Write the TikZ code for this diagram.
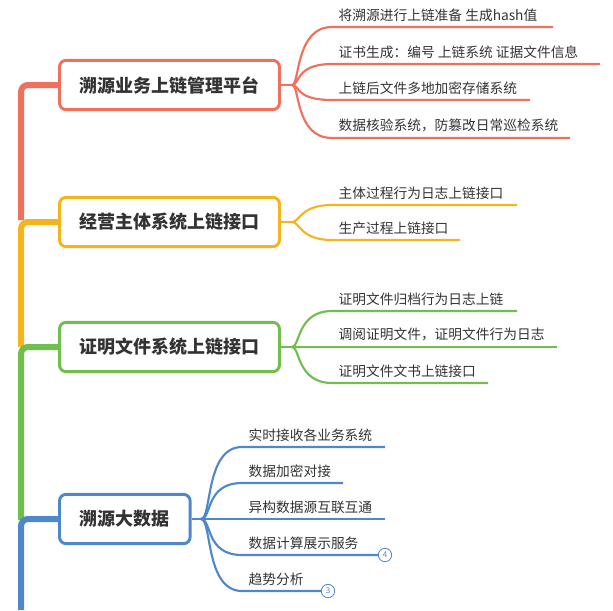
\documentclass[tikz,border=0pt]{standalone}
\usepackage{fontspec}
\setmainfont{Noto Sans CJK SC}
\definecolor{cR}{HTML}{F0705E}
\definecolor{cO}{HTML}{F6B41C}
\definecolor{cG}{HTML}{6FBF4C}
\definecolor{cB}{HTML}{4F87CD}
\definecolor{tx}{HTML}{333333}
\begin{document}
\begin{tikzpicture}[x=0.75pt,y=-0.75pt,
 box/.style={draw=#1,line width=2.2pt,rounded corners=5pt,fill=white,text=tx,font=\fontsize{13.5}{15}\selectfont\bfseries,anchor=west,minimum height=37pt,inner sep=0pt},
 leaf/.style={text=tx,font=\fontsize{10.3}{12}\selectfont,anchor=south west,inner sep=1pt},
 br/.style={draw=#1,line width=1.6pt},
 num/.style={draw=cB,fill=white,circle,line width=0.6pt,inner sep=0pt,minimum size=10pt,text=cB,font=\fontsize{6}{7}\selectfont}]
\useasboundingbox (0,0) rectangle (613,610);
% trunk
\draw[cR,line width=4.5pt] (21,220) -- (21,92) to[out=90,in=180] (28,85) -- (58,85);
\draw[cO,line width=4.5pt] (21,347) -- (21,229) to[out=90,in=180] (28,222) -- (58,222);
\draw[cG,line width=4.5pt] (21,520) -- (21,354) to[out=90,in=180] (28,347) -- (58,347);
\draw[cB,line width=4.5pt] (21,610) -- (21,526) to[out=90,in=180] (28,519) -- (58,519);
% boxes
\node[box=cR,minimum width=165pt] (b1) at (58,85) {溯源业务上链管理平台};
\node[box=cO,minimum width=165pt] (b2) at (58,222) {经营主体系统上链接口};
\node[box=cG,minimum width=165pt] (b3) at (58,347) {证明文件系统上链接口};
\node[box=cB,minimum width=98pt] (b4) at (58,519) {溯源大数据};
% box1 leaves
\coordinate (f1) at (292,85);
\draw[br=cR] (b1.east) -- (f1);
\foreach \y/\e/\t in {27/553/将溯源进行上链准备 生成hash值,64/600/证书生成：编号 上链系统 证据文件信息,100/530/上链后文件多地加密存储系统,138/570/数据核验系统，防篡改日常巡检系统}{
 \draw[br=cR] (f1) .. controls (300,85) and (295,\y) .. (332,\y) -- (\e,\y);
 \node[leaf] at (337,\y-4) {\t};}
% box2
\coordinate (f2) at (292,222);
\draw[br=cO] (b2.east) -- (f2);
\foreach \y/\e/\t in {205/517/主体过程行为日志上链接口,240/460/生产过程上链接口}{
 \draw[br=cO] (f2) .. controls (300,222) and (300,\y) .. (332,\y) -- (\e,\y);
 \node[leaf] at (337,\y-4) {\t};}
% box3
\coordinate (f3) at (292,347);
\draw[br=cG] (b3.east) -- (f3);
\foreach \y/\e/\t in {311/517/证明文件归档行为日志上链,347/557/调阅证明文件，证明文件行为日志,383/488/证明文件文书上链接口}{
 \draw[br=cG] (f3) .. controls (300,347) and (297,\y) .. (332,\y) -- (\e,\y);
 \node[leaf] at (337,\y-4) {\t};}
% box4
\coordinate (f4) at (201,519);
\draw[br=cB] (b4.east) -- (f4);
\foreach \y/\e/\t in {447/385/实时接收各业务系统,483/343/数据加密对接,519/385/异构数据源互联互通,555/378/数据计算展示服务,591/321/趋势分析}{
 \draw[br=cB] (f4) .. controls (212,519) and (205,\y) .. (242,\y) -- (\e,\y);
 \node[leaf] at (247,\y-4) {\t};}
\node[num] (n4) at (385,555) {4};
\node[num] (n3) at (328,591) {3};
\end{tikzpicture}
\end{document}
